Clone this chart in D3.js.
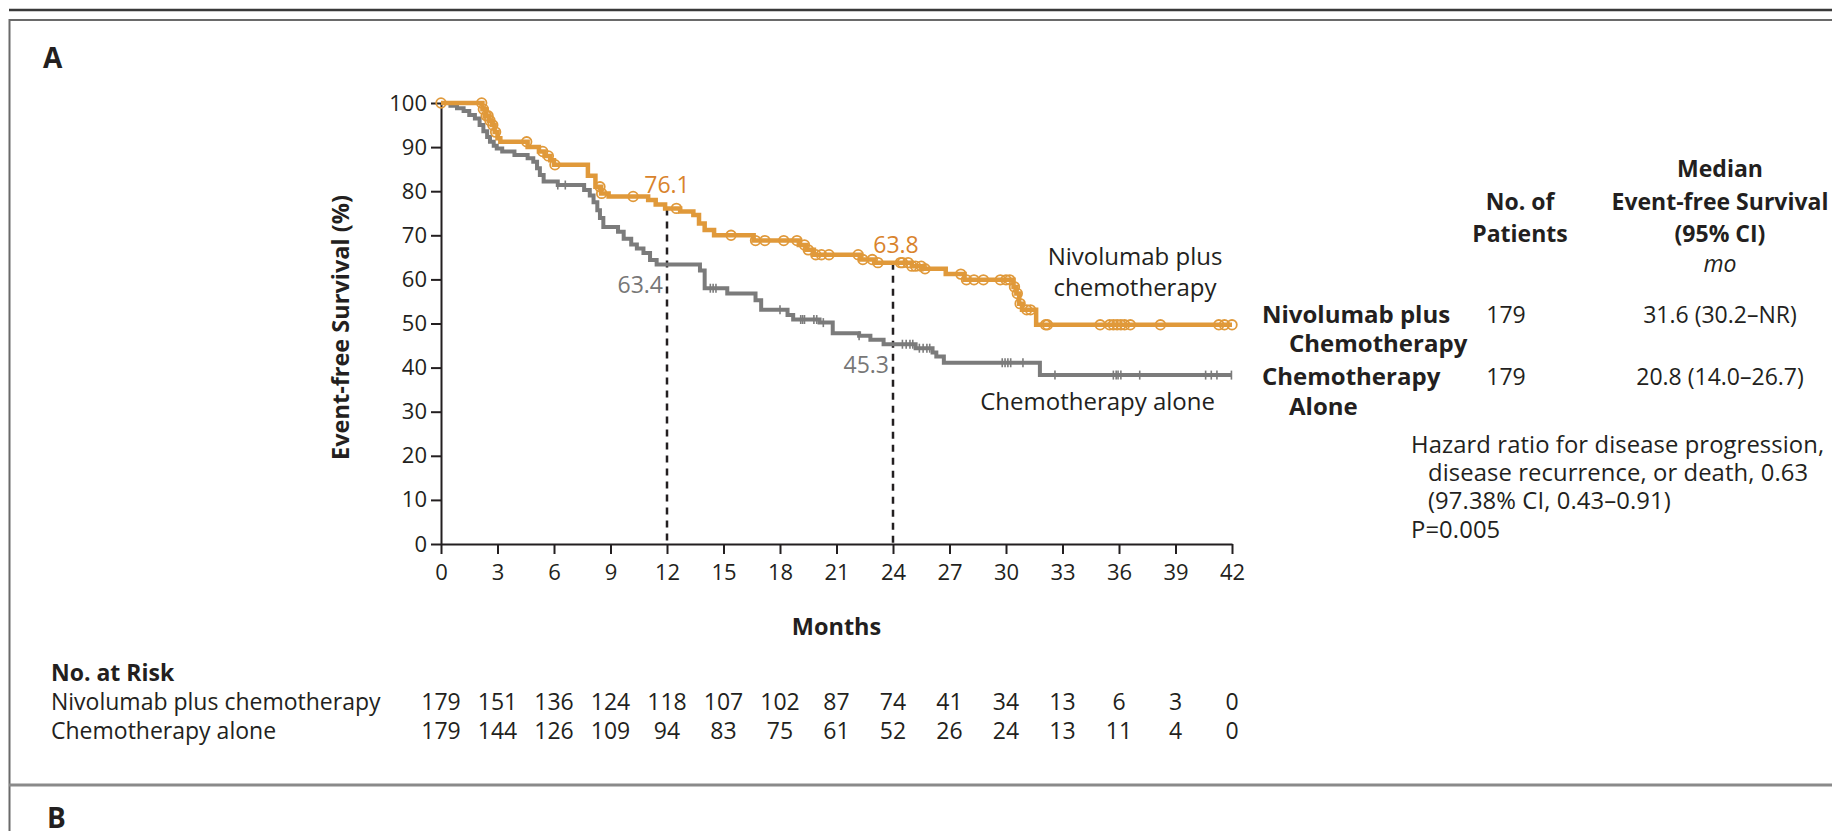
<!DOCTYPE html>
<html>
<head>
<meta charset="utf-8">
<script src="https://cdn.jsdelivr.net/npm/d3@7"></script>
<style>
  body { margin: 0; background: #fff; }
  svg { display: block; font-family: "Open Sans", sans-serif; }
  .axis text { font-family: "Open Sans", sans-serif; font-size: 22px; fill: #231f20; }
  .axis path, .axis line { stroke: #231f20; stroke-width: 2px; }
</style>
</head>
<body>
<script>
// ---- data ----
var xTicks = [0, 3, 6, 9, 12, 15, 18, 21, 24, 27, 30, 33, 36, 39, 42];
var yTicks = [0, 10, 20, 30, 40, 50, 60, 70, 80, 90, 100];

// Nivolumab plus chemotherapy : step times (months) and survival (%) after each step
var nivoTimes = [0, 2.2, 2.4, 2.55, 2.7, 2.85, 3.0, 3.15, 4.6, 5.2, 5.5, 5.8, 6.0, 7.8, 8.2, 8.5, 8.9,
  11.0, 11.4, 11.9, 12.7, 13.4, 13.7, 14.0, 14.5, 16.6, 19.0, 19.4, 19.8, 22.3, 23.0, 25.0, 25.6,
  26.8, 27.8, 30.4, 30.55, 30.7, 30.85, 31.6, 42];
var nivoSurv = [100, 98.6, 97.1, 96, 95, 93.4, 92, 91.2, 90, 89, 88, 87, 86, 83.5, 81, 79.5, 78.8,
  78, 77, 76.1, 75.4, 74.6, 72.7, 71.2, 70, 68.8, 67.8, 66.7, 65.6, 64.5, 63.8, 63.0, 62.4,
  61.2, 59.9, 58.3, 56.8, 54.5, 53.1, 49.7, 49.7];
var nivoCensor = [0, 2.16, 2.25, 2.4, 2.5, 2.6, 2.75, 2.9, 4.55, 5.4, 5.7, 6.05, 8.44, 8.53, 10.2, 12.5,
  15.4, 16.7, 17.2, 18.2, 18.9, 19.3, 19.5, 19.9, 20.2, 20.6, 22.15, 22.4, 22.9, 23.2, 24.4, 24.5,
  24.8, 25.0, 25.2, 25.5, 25.7, 27.6, 27.9, 28.3, 28.8, 29.7, 30.0, 30.2, 30.45, 30.6, 30.75, 31.1,
  31.3, 32.1, 32.2, 35.0, 35.5, 35.7, 35.9, 36.1, 36.3, 36.6, 38.2, 41.3, 41.6, 42.0];

// Chemotherapy alone
var chemoTimes = [0, 0.5, 0.85, 1.2, 1.5, 1.8, 2.05, 2.25, 2.45, 2.6, 2.8, 2.96, 3.25, 3.9, 4.6, 4.9,
  5.1, 5.25, 5.45, 6.2, 7.6, 7.9, 8.1, 8.3, 8.44, 8.62, 9.4, 9.7, 10.1, 10.4, 10.75, 11.1, 11.45,
  13.75, 14.0, 15.2, 16.7, 17.0, 18.4, 18.7, 20.1, 20.8, 22.2, 22.8, 23.5, 25.2, 26.1, 26.3, 26.7,
  31.8, 42];
var chemoSurv = [100, 99.4, 98.8, 98.2, 97.3, 96.5, 95, 93.6, 92.3, 91.2, 90.3, 89.7, 89.0, 88.2, 87.5, 86.7,
  85.2, 83.7, 82.2, 81.4, 80.3, 79, 77.5, 75.7, 73.9, 71.9, 70.8, 69.2, 67.9, 67.0, 66.0, 64.4, 63.4,
  62.0, 58.0, 56.8, 55.3, 53.1, 51.9, 50.9, 50.2, 47.8, 47.2, 46.3, 45.3, 44.4, 43.4, 42.5, 41.1,
  38.3, 38.3];
var chemoCensor = [6.2, 6.6, 14.3, 14.45, 14.6, 18.0, 19.1, 19.2, 19.3, 19.8, 19.95, 20.3, 22.2, 24.5,
  24.7, 24.9, 25.05, 25.4, 25.6, 25.8, 25.95, 29.8, 29.95, 30.1, 30.25, 30.9, 32.6, 35.7, 35.85,
  35.95, 36.1, 37.1, 40.6, 40.9, 41.2, 41.97];

var riskNivo = [179, 151, 136, 124, 118, 107, 102, 87, 74, 41, 34, 13, 6, 3, 0];
var riskChemo = [179, 144, 126, 109, 94, 83, 75, 61, 52, 26, 24, 13, 11, 4, 0];

// landmark estimates at 12 and 24 months
var landmarkMonths = [12, 24];
var landmarkNivo = [76.1, 63.8];
var landmarkChemo = [63.4, 45.3];

var orange = "#e0993a", orangeText = "#d9832c", grey = "#7b7b7b", greyText = "#777777", ink = "#231f20";

var W = 1832, H = 831;
var svg = d3.select("body").append("svg")
  .attr("width", W)
  .attr("height", H);

// frame
svg.append("line").attr("x1", 9).attr("x2", W).attr("y1", 10).attr("y2", 10)
  .style("stroke", "#3a3a3a").style("stroke-width", 2.5);
svg.append("path").attr("d", "M" + (W + 5) + ",20 H9.5 V" + H)
  .style("fill", "none").style("stroke", "#6a6a6a").style("stroke-width", 2);
svg.append("line").attr("x1", 9).attr("x2", W).attr("y1", 785).attr("y2", 785)
  .style("stroke", "#8a8a8a").style("stroke-width", 3);

svg.append("text").text("A").attr("x", 43).attr("y", 68)
  .style("font-size", "28px").style("font-weight", "bold").style("fill", ink);
svg.append("text").text("B").attr("x", 47).attr("y", 828)
  .style("font-size", "28px").style("font-weight", "bold").style("fill", ink);

// scales
var x = d3.scaleLinear().domain([0, 42]).range([441, 1232]);
var y = d3.scaleLinear().domain([0, 100]).range([544, 103]);

var g = svg.append("g");

g.append("g").attr("class", "axis")
  .attr("transform", "translate(0," + y(0) + ")")
  .call(d3.axisBottom(x).tickValues(xTicks).tickSize(10).tickSizeOuter(0).tickPadding(10));

g.append("g").attr("class", "axis")
  .attr("transform", "translate(" + x(0) + ",0)")
  .call(d3.axisLeft(y).tickValues(yTicks).tickSize(10).tickSizeOuter(0).tickPadding(4));

g.append("text").text("Event-free Survival (%)")
  .attr("transform", "translate(349," + ((y(0) + y(100)) / 2 + 4) + ") rotate(-90)")
  .attr("text-anchor", "middle")
  .style("font-size", "23.5px").style("font-weight", "bold").style("fill", ink);

g.append("text").text("Months")
  .attr("x", (x(0) + x(42)) / 2).attr("y", 635)
  .attr("text-anchor", "middle")
  .style("font-size", "23.5px").style("font-weight", "bold").style("fill", ink);

// dashed landmark lines
g.selectAll(".landmark").data(landmarkMonths).enter().append("line")
  .attr("x1", function(d) { return x(d); }).attr("x2", function(d) { return x(d); })
  .attr("y1", function(d, i) { return y(landmarkNivo[i]); })
  .attr("y2", y(0))
  .style("stroke", ink).style("stroke-width", 2.5).style("stroke-dasharray", "7,6");

// curves
var line = d3.line()
  .x(function(d) { return x(d[0]); })
  .y(function(d) { return y(d[1]); })
  .curve(d3.curveStepAfter);

function survAt(times, surv, t) {
  var k = d3.bisectRight(times, t) - 1;
  return surv[Math.max(0, k)];
}

g.append("path")
  .datum(chemoTimes.map(function(t, i) { return [t, chemoSurv[i]]; }))
  .attr("d", line)
  .style("fill", "none").style("stroke", grey).style("stroke-width", 4);

g.selectAll(".ctick").data(chemoCensor).enter().append("line")
  .attr("x1", function(d) { return x(d); }).attr("x2", function(d) { return x(d); })
  .attr("y1", function(d) { return y(survAt(chemoTimes, chemoSurv, d)) - 4.5; })
  .attr("y2", function(d) { return y(survAt(chemoTimes, chemoSurv, d)) + 4.5; })
  .style("stroke", grey).style("stroke-width", 1.6);

g.append("path")
  .datum(nivoTimes.map(function(t, i) { return [t, nivoSurv[i]]; }))
  .attr("d", line)
  .style("fill", "none").style("stroke", orange).style("stroke-width", 4.5);

g.selectAll(".ncirc").data(nivoCensor).enter().append("circle")
  .attr("cx", function(d) { return x(d); })
  .attr("cy", function(d) { return y(survAt(nivoTimes, nivoSurv, d)); })
  .attr("r", 4.8)
  .style("fill", "none").style("stroke", orange).style("stroke-width", 1.8);

// landmark labels
g.selectAll(".lnivo").data(landmarkMonths).enter().append("text")
  .text(function(d, i) { return landmarkNivo[i].toFixed(1); })
  .attr("x", function(d, i) { return x(d) + (i ? 3 : 0); })
  .attr("y", function(d, i) { return y(landmarkNivo[i]) - (i ? 10 : 15); })
  .attr("text-anchor", "middle")
  .style("font-size", "23px").style("fill", orangeText);

g.selectAll(".lchemo").data(landmarkMonths).enter().append("text")
  .text(function(d, i) { return landmarkChemo[i].toFixed(1); })
  .attr("x", function(d) { return x(d) - 4; })
  .attr("y", function(d, i) { return y(landmarkChemo[i]) + 29; })
  .attr("text-anchor", "end")
  .style("font-size", "23px").style("fill", greyText);

// curve names
var cn = g.append("text").attr("text-anchor", "middle")
  .style("font-size", "24px").style("fill", ink);
cn.append("tspan").attr("x", 1135).attr("y", 265).text("Nivolumab plus");
cn.append("tspan").attr("x", 1135).attr("y", 296).text("chemotherapy");
g.append("text").text("Chemotherapy alone")
  .attr("x", 1215).attr("y", 410).attr("text-anchor", "end")
  .style("font-size", "24px").style("fill", ink);

// right-hand table
var tbl = svg.append("g").style("font-size", "23px").style("fill", ink);
function t(str, xx, yy, anchor, weight, style, size) {
  return tbl.append("text").text(str).attr("x", xx).attr("y", yy)
    .attr("text-anchor", anchor || "start")
    .style("font-weight", weight || "normal")
    .style("font-style", style || "normal")
    .style("font-size", size || null);
}
t("Median", 1720, 177, "middle", "bold");
t("Event-free Survival", 1720, 210, "middle", "bold");
t("(95% CI)", 1720, 242, "middle", "bold");
t("mo", 1720, 272, "middle", "normal", "italic");
t("No. of", 1520, 210, "middle", "bold");
t("Patients", 1520, 242, "middle", "bold");
t("Nivolumab plus", 1262, 323, "start", "bold", null, "24px");
t("Chemotherapy", 1289, 352, "start", "bold", null, "24px");
t("Chemotherapy", 1262, 385, "start", "bold", null, "24px");
t("Alone", 1289, 415, "start", "bold", null, "24px");
t("179", 1506, 323, "middle");
t("179", 1506, 385, "middle");
t("31.6 (30.2\u2013NR)", 1720, 323, "middle");
t("20.8 (14.0\u201326.7)", 1720, 385, "middle");
var hz = svg.append("g").style("font-size", "23.8px").style("fill", ink).style("letter-spacing", "0.1px");
hz.append("text").text("Hazard ratio for disease progression,").attr("x", 1411).attr("y", 453);
hz.append("text").text("disease recurrence, or death, 0.63").attr("x", 1428).attr("y", 481);
hz.append("text").text("(97.38% CI, 0.43\u20130.91)").attr("x", 1428).attr("y", 509);
hz.append("text").text("P=0.005").attr("x", 1411).attr("y", 538);

// number at risk
var risk = svg.append("g").style("font-size", "23px").style("fill", ink);
risk.append("text").text("No. at Risk").attr("x", 51).attr("y", 681).style("font-weight", "bold");
risk.append("text").text("Nivolumab plus chemotherapy").attr("x", 51).attr("y", 710);
risk.append("text").text("Chemotherapy alone").attr("x", 51).attr("y", 739);
risk.selectAll(".rn").data(riskNivo).enter().append("text")
  .text(function(d) { return d; })
  .attr("x", function(d, i) { return x(xTicks[i]); }).attr("y", 710)
  .attr("text-anchor", "middle");
risk.selectAll(".rc").data(riskChemo).enter().append("text")
  .text(function(d) { return d; })
  .attr("x", function(d, i) { return x(xTicks[i]); }).attr("y", 739)
  .attr("text-anchor", "middle");
</script>
</body>
</html>
